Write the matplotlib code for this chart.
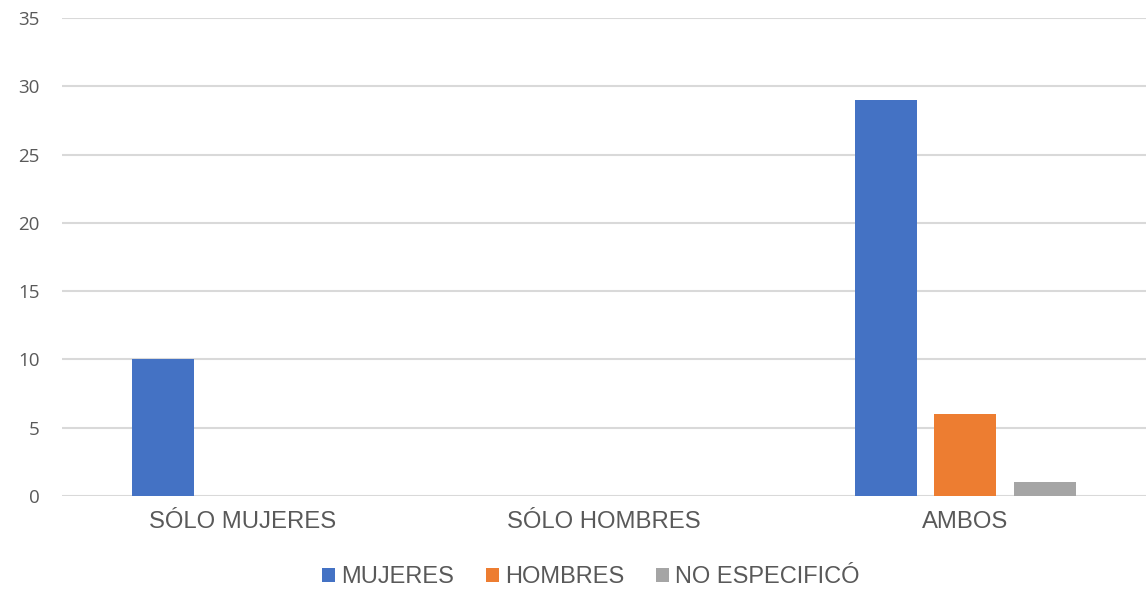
import numpy as np
import matplotlib.pyplot as plt

categorias = ["SÓLO MUJERES", "SÓLO HOMBRES", "AMBOS"]
mujeres = [10, 0, 29]
hombres = [0, 0, 6]
no_especifico = [0, 0, 1]
series = ["MUJERES", "HOMBRES", "NO ESPECIFICÓ"]
colores = ["#4472C4", "#ED7D31", "#A5A5A5"]

gris_texto = "#595959"

fig = plt.figure(figsize=(11.46, 6.08), dpi=100)
ax = fig.add_axes([62 / 1146, 1 - 496 / 608, 1 - 62 / 1146, 478 / 608])

x = np.arange(len(categorias))
ancho = 0.172
desp = 0.22
for i, (vals, nombre, col) in enumerate(zip([mujeres, hombres, no_especifico], series, colores)):
    ax.bar(x + (i - 1) * desp, vals, width=ancho, color=col, label=nombre, linewidth=0, zorder=3)

ax.set_xlim(-0.5, 2.5)
ax.set_ylim(0, 35)
ax.set_yticks(np.arange(0, 36, 5))
ax.set_xticks(x)
ax.set_xticklabels(categorias, fontsize=17.2, color=gris_texto, family="Liberation Sans")
for t in ax.get_yticklabels():
    t.set_family("Open Sans")
    t.set_fontsize(13.5)
    t.set_color(gris_texto)
ax.tick_params(axis="y", length=0, pad=16)
ax.tick_params(axis="x", length=0, pad=11)
ax.grid(axis="y", color="#D9D9D9", linewidth=1.5, zorder=0)
for s in ax.spines.values():
    s.set_visible(False)

fig.legend(loc="center", bbox_to_anchor=(591 / 1146, 1 - 577 / 608), ncol=3, frameon=False,
           handlelength=0.55, handleheight=0.55, handletextpad=0.25, columnspacing=1.35,
           prop={"family": "Liberation Sans", "size": 17}, labelcolor=gris_texto)

fig.savefig("out.png", dpi=100)
